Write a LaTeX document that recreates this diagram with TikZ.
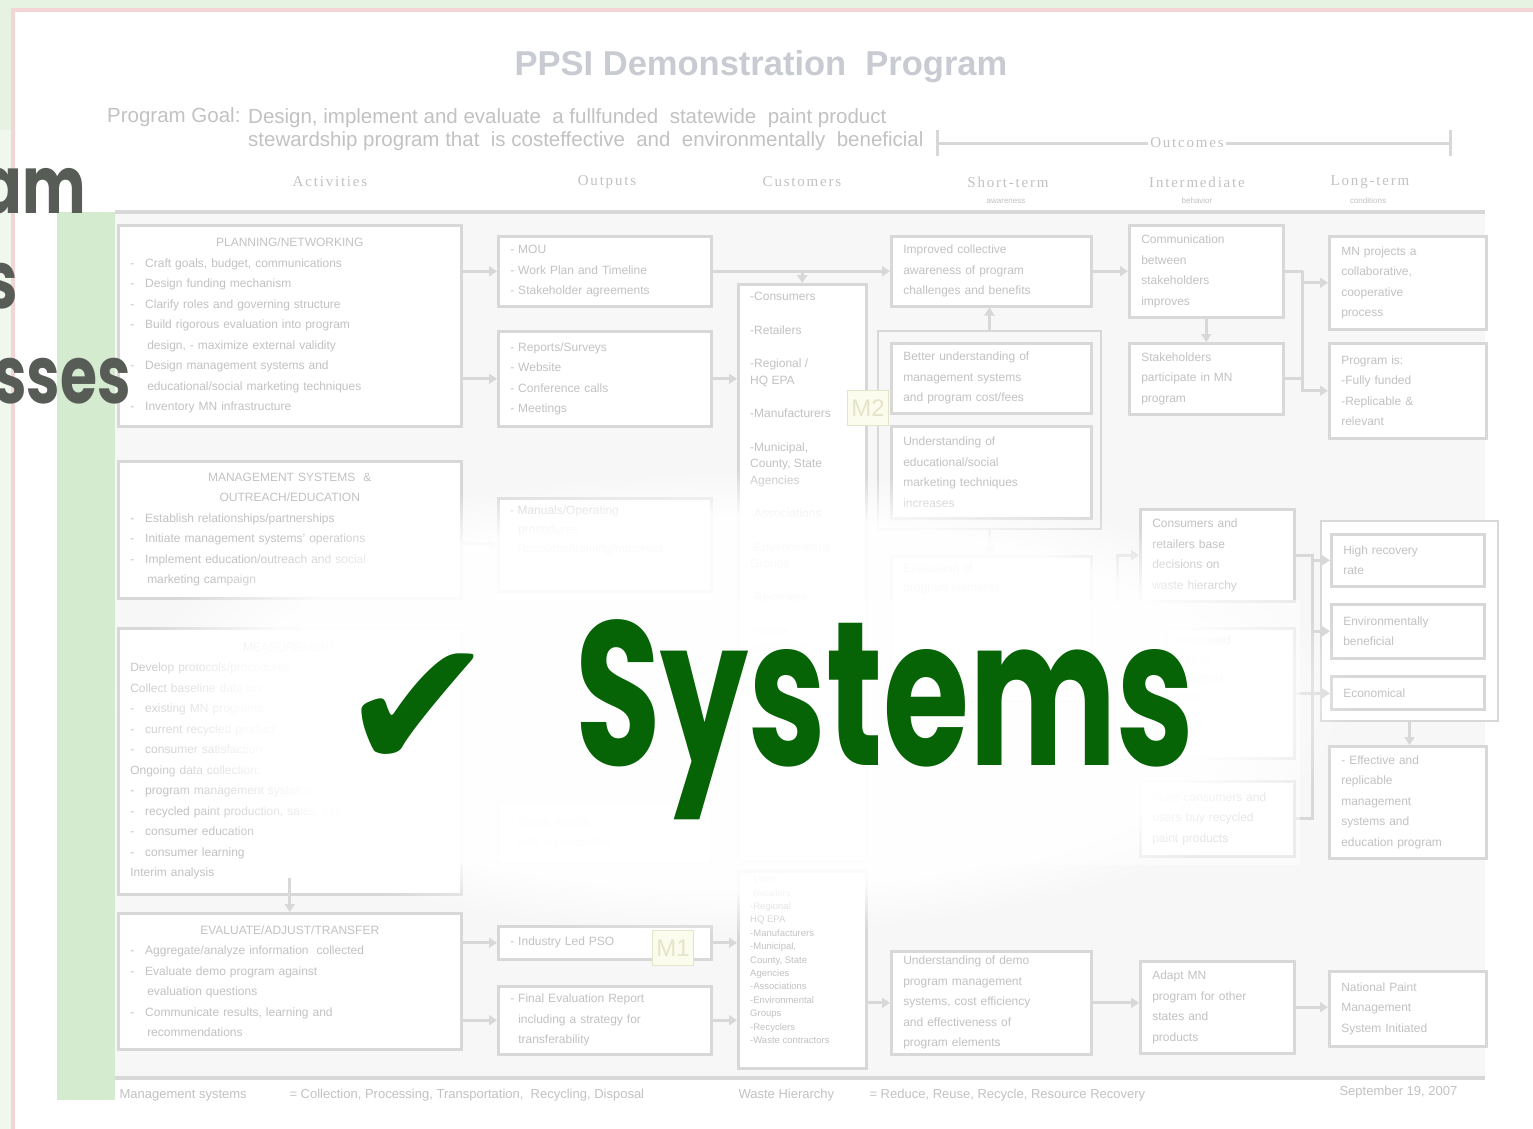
\documentclass[tikz,border=0pt]{standalone}
\usepackage{fontspec}
\setmainfont{Liberation Sans}
\newfontfamily\hdrfont[LetterSpace=12]{Liberation Serif}
\newfontfamily\handfont{Poppins}
\newfontfamily\symfont{DejaVu Sans}
\usetikzlibrary{arrows.meta,fadings}
\definecolor{lgray}{HTML}{D8D8D8}
\definecolor{tgray}{HTML}{C2C2C2}
\definecolor{ttlgray}{HTML}{C9CBD3}
\definecolor{bargreen}{HTML}{D5EBD0}
\definecolor{topgreen}{HTML}{E6F3E2}
\definecolor{framepink}{HTML}{F3D5D5}
\definecolor{sysgreen}{HTML}{066306}
\definecolor{handgray}{HTML}{575C57}
\definecolor{panel}{HTML}{F7F7F7}
\definecolor{mfill}{HTML}{FCFCEE}
\definecolor{mline}{HTML}{E4E4C8}
\tikzset{
  box/.style={draw=lgray,line width=2.5pt,fill=white,anchor=north west,inner xsep=12pt,inner ysep=5pt,align=left,text=tgray,font=\fontsize{12}{20.5}\selectfont},
  boxtxt/.style={anchor=north west,inner xsep=13pt,inner ysep=9pt,align=left,text=tgray,font=\fontsize{12}{16.5}\selectfont},
  grp/.style={draw=lgray,line width=2pt,anchor=north west,inner sep=0pt},
  flow/.style={draw=lgray,line width=3pt,-{Triangle[width=10pt,length=8pt]}},
  plain/.style={draw=lgray,line width=3pt},
  colhead/.style={text=tgray,font=\hdrfont\fontsize{15}{15}\selectfont},
  sublabel/.style={text=tgray,font=\fontsize{8}{8}\selectfont},
  foot/.style={anchor=west,text=tgray,font=\fontsize{13}{13}\selectfont},
  mtag/.style={draw=mline,fill=mfill,line width=1pt,text=mline,font=\fontsize{24}{24}\selectfont,inner sep=2pt,anchor=north west,minimum width=41pt,minimum height=35pt},
  hand/.style={anchor=base east,text=handgray,inner sep=0pt,xscale=0.75,transform shape,font=\handfont\bfseries\fontsize{80}{80}\selectfont}
}
\begin{document}
\begin{tikzpicture}[x=1pt,y=-1pt]
      \useasboundingbox (0,0) rectangle (1533,1129);
      \fill[white] (0,0) rectangle (1533,1129);
      \fill[topgreen] (0,0) rectangle (1533,8);
      \fill[topgreen!60] (0,0) rectangle (11,1129);
      \fill[topgreen] (0,0) rectangle (11,130);
      \draw[framepink,line width=4pt] (13,1129) -- (13,10) -- (1533,10);
      \fill[panel] (115,214) rectangle (1485,1078);
      \fill[bargreen] (57,212) rectangle (115,1100);
      \node[text=ttlgray,font=\bfseries\fontsize{34.5}{34.5}\selectfont] (title) at (761,67) {PPSI Demonstration\ \ Program};
      \node[anchor=base west,text=tgray,font=\fontsize{20.5}{23}\selectfont,inner sep=0pt] (goal) at (107,123) {Program Goal:};
      \node[anchor=north west,align=left,text=tgray,font=\fontsize{20.5}{23}\selectfont,inner sep=0pt] (goaltext) at (248,108) {Design, implement and evaluate\ \ a fullfunded\ \ statewide\ \ paint product\\stewardship program that\ \ is costeffective\ \ and\ \ environmentally\ \ beneficial};
      \node[colhead,inner sep=2pt] (outc) at (1187,143) {Outcomes};
      \coordinate (ol) at (937,143);
      \coordinate (or) at (1450,143);
      \draw[plain] (ol) -- (outc.west);
      \draw[plain] (outc.east) -- (or);
      \draw[plain] ([yshift=13pt]ol) -- ([yshift=-13pt]ol);
      \draw[plain] ([yshift=13pt]or) -- ([yshift=-13pt]or);
      \node[colhead] (hact) at (330,182) {Activities};
      \node[colhead] (hout) at (607,182) {Outputs};
      \node[colhead] (hcus) at (802,182) {Customers};
      \node[colhead] (hst) at (1008,182) {Short-term};
      \node[colhead] (hint) at (1197,182) {Intermediate};
      \node[colhead] (hlt) at (1370,182) {Long-term};
      \node[sublabel] (sst) at (1006,201) {awareness};
      \node[sublabel] (sint) at (1197,201) {behavior};
      \node[sublabel] (slt) at (1368,201) {conditions};
      \draw[plain,line width=4pt] (115,212) -- (1485,212);
      \draw[plain,line width=4pt] (115,1078) -- (1485,1078);
      \node[box,text width=319pt,minimum height=201pt] (a1) at (117,224) {\hfill PLANNING/NETWORKING\hfill\null\\
        -\hspace{11pt}Craft goals, budget, communications\\
        -\hspace{11pt}Design funding mechanism\\
        -\hspace{11pt}Clarify roles and governing structure\\
        -\hspace{11pt}Build rigorous evaluation into program\\
        \hspace*{17pt}design, - maximize external validity\\
        -\hspace{11pt}Design management systems and\\
        \hspace*{17pt}educational/social marketing techniques\\
        -\hspace{11pt}Inventory MN infrastructure};
      \node[box,text width=319pt,minimum height=137pt] (a2) at (117,460) {\hfill MANAGEMENT SYSTEMS\ \ \&\hfill\null\\
        \hfill OUTREACH/EDUCATION\hfill\null\\
        -\hspace{11pt}Establish relationships/partnerships\\
        -\hspace{11pt}Initiate management systems' operations\\
        -\hspace{11pt}Implement education/outreach and social\\
        \hspace*{17pt}marketing campaign};
      \node[box,text width=319pt,minimum height=266pt] (a3) at (117,627) {\hfill MEASUREMENT\hfill\null\\
        Develop protocols/procedures\\
        Collect baseline data on:\\
        -\hspace{11pt}existing MN programs\\
        -\hspace{11pt}current recycled product\\
        -\hspace{11pt}consumer satisfaction\\
        Ongoing data collection:\\
        -\hspace{11pt}program management systems\\
        -\hspace{11pt}recycled paint production, sales, use\\
        -\hspace{11pt}consumer education\\
        -\hspace{11pt}consumer learning\\
        Interim analysis};
      \node[box,text width=319pt,minimum height=136pt] (a4) at (117,912) {\hfill EVALUATE/ADJUST/TRANSFER\hfill\null\\
        -\hspace{11pt}Aggregate/analyze information\ \ collected\\
        -\hspace{11pt}Evaluate demo program against\\
        \hspace*{17pt}evaluation questions\\
        -\hspace{11pt}Communicate results, learning and\\
        \hspace*{17pt}recommendations};
      \node[box,text width=189pt,minimum height=70pt] (o1) at (497,235) {- MOU\\- Work Plan and Timeline\\- Stakeholder agreements};
      \node[box,text width=189pt,minimum height=95pt] (o2) at (497,330) {- Reports/Surveys\\- Website\\- Conference calls\\- Meetings};
      \node[box,text width=189pt,minimum height=93pt] (o3) at (497,497) {};
      \node[boxtxt,font=\fontsize{12}{19}\selectfont] (o3t) at (o3.north west) {- Manuals/Operating\\\hspace*{8pt}procedures\\- Resource/training/materials};
      \node[box,text width=189pt,minimum height=62pt] (o4) at (497,800) {- Share results\\\hspace*{8pt}with stakeholders};
      \node[box,text width=189pt,minimum height=33pt] (o5) at (497,925) {- Industry Led PSO};
      \node[box,text width=189pt,minimum height=68pt] (o6) at (497,985) {- Final Evaluation Report\\\hspace*{8pt}including a strategy for\\\hspace*{8pt}transferability};
      \node[box,text width=104pt,minimum height=577pt] (c1) at (737,283) {};
      \node[boxtxt] (c1t) at (c1.north west) {-Consumers\\[17pt]-Retailers\\[17pt]-Regional /\\HQ EPA\\[17pt]-Manufacturers\\[17pt]-Municipal,\\County, State\\Agencies\\[17pt]-Associations\\[17pt]-Environmental\\Groups\\[17pt]-Recyclers\\[17pt]-Waste\\contractors};
      \node[box,text width=104pt,minimum height=197pt] (c2) at (737,870) {};
      \node[boxtxt,inner ysep=6pt,font=\fontsize{9.5}{13.4}\selectfont] (c2t) at (c2.north west) {-Users\\-Retailers\\-Regional\\HQ EPA\\-Manufacturers\\-Municipal,\\County, State\\Agencies\\-Associations\\-Environmental\\Groups\\-Recyclers\\-Waste contractors};
      \node[grp,minimum width=223pt,minimum height=198pt] (sg) at (877,330) {};
      \node[box,text width=176pt,minimum height=70pt] (s1) at (890,235) {Improved collective\\awareness of program\\challenges and benefits};
      \node[box,text width=176pt,minimum height=70pt] (s2) at (890,342) {Better understanding of\\management systems\\and program cost/fees};
      \node[box,text width=176pt,minimum height=92pt] (s3) at (890,425) {Understanding of\\educational/social\\marketing techniques\\increases};
      \node[box,text width=176pt,minimum height=145pt] (s4) at (890,555) {};
      \node[boxtxt,font=\fontsize{12}{19}\selectfont] (s4t) at (s4.north west) {Evaluation of\\program elements};
      \node[box,text width=176pt,minimum height=98pt] (s5) at (890,950) {Understanding of demo\\program management\\systems, cost efficiency\\and effectiveness of\\program elements};
      \node[box,text width=130pt,minimum height=92pt] (i1) at (1128,224) {Communication\\between\\stakeholders\\improves};
      \node[box,text width=130pt,minimum height=71pt] (i2) at (1128,342) {Stakeholders\\participate in MN\\program};
      \node[box,text width=130pt,minimum height=92pt] (i3) at (1139,508) {Consumers and\\retailers base\\decisions on\\waste hierarchy};
      \node[box,text width=104pt,minimum height=130pt] (i4) at (1165,627) {};
      \node[boxtxt,font=\fontsize{12}{19}\selectfont] (i4t) at (i4.north west) {Increased\\use of\\recycled\\paint};
      \node[box,text width=130pt,minimum height=75pt] (i5) at (1139,780) {More consumers and\\users buy recycled\\paint products};
      \node[box,text width=130pt,minimum height=92pt] (i6) at (1139,960) {Adapt MN\\program for other\\states and\\products};
      \node[box,text width=133pt,minimum height=93pt] (l1) at (1328,235) {MN projects a\\collaborative,\\cooperative\\process};
      \node[box,text width=133pt,minimum height=95pt] (l2) at (1328,342) {Program is:\\-Fully funded\\-Replicable \&\\relevant};
      \node[grp,fill=white,minimum width=177pt,minimum height=200pt] (lg) at (1320,520) {};
      \node[box,text width=129pt,minimum height=52pt] (l3) at (1330,533) {High recovery\\rate};
      \node[box,text width=129pt,minimum height=54pt] (l4) at (1330,603) {Environmentally\\beneficial};
      \node[box,text width=129pt,minimum height=33pt] (l5) at (1330,675) {Economical};
      \node[box,text width=133pt,minimum height=112pt] (l6) at (1328,745) {- Effective and\\replicable\\management\\systems and\\education program};
      \node[box,text width=133pt,minimum height=75pt] (l7) at (1328,970) {National Paint\\Management\\System Initiated};
      \node[mtag] (m2) at (847,390) {M2};
      \node[mtag] (m1) at (652,930) {M1};
      \draw[flow] (a1.east |- o1.west) -- (o1.west);
      \draw[flow] (a1.east |- o2.west) -- (o2.west);
      \draw[flow] ([yshift=-14pt]a2.east) -- ([yshift=-14pt]a2.east -| o3.west);
      \draw[flow] ([yshift=18pt]a3.south) -- (a4.north);
      \draw[flow] (a4.east |- o5.west) -- (o5.west);
      \draw[flow] (a4.east |- o6.west) -- (o6.west);
      \draw[flow] (o1.east) -- (s1.west);
      \draw[flow] (o1.east -| c1.north) -- (c1.north);
      \draw[flow] (o2.east) -- (o2.east -| c1.west);
      \draw[flow] (sg.north) -- (sg.north |- s1.south);
      \draw[flow] (sg.south) -- (sg.south |- s4.north);
      \draw[flow] (s1.east) -- (s1.east -| i1.west);
      \draw[flow] (i1.south) -- (i1.south |- i2.north);
      \coordinate (j1) at ([xshift=18pt]i1.east);
      \draw[plain] (i1.east) -- (j1);
      \draw[flow] (j1) |- (l1.west);
      \draw[flow] (j1) |- (l2.west);
      \draw[plain] (i2.east) -- (i2.east -| j1);
      \draw[flow] (s4.east |- i3.south) -- ++(25,0) |- (i3.west);
      \coordinate (j2) at ([xshift=17pt]i3.east);
      \draw[plain] (i3.east) -- (j2) -- (j2 |- i5.east) -- (i5.east);
      \draw[flow] (j2 |- l3.west) -- (l3.west);
      \draw[flow] (j2 |- l4.west) -- (l4.west);
      \draw[flow] (i4.east) -- (i4.east -| l5.west);
      \draw[flow] (lg.south) -- (lg.south |- l6.north);
      \draw[flow] (o5.east) -- (o5.east -| c2.west);
      \draw[flow] (o6.east) -- (o6.east -| c2.west);
      \draw[flow] (s5.west -| c2.east) -- (s5.west);
      \draw[flow] (s5.east) -- (s5.east -| i6.west);
      \draw[flow] (i6.east) -- (i6.east -| l7.west);
      \node[foot] (f1) at (116,1095) {Management systems};
      \node[foot] (f2) at (286,1095) {= Collection, Processing, Transportation,\ \ Recycling, Disposal};
      \node[foot] (f3) at (735,1095) {Waste Hierarchy};
      \node[foot] (f4) at (866,1095) {= Reduce, Reuse, Recycle, Resource Recovery};
      \node[foot] (f5) at (1336,1092) {September 19, 2007};
      \fill[white,opacity=0.92,path fading=circle with fuzzy edge 20 percent] (116,470) rectangle (1350,935);
      \fill[white,opacity=0.5] (300,600) rectangle (1300,865);
      \node[hand] (h1) at (86,213) {am};
      \node[hand] (h2) at (18,308) {s};
      \node[hand] (h3) at (131,403) {sses};
      \node[text=sysgreen,font=\symfont\bfseries\fontsize{185}{185}\selectfont] (tick) at (418,712) {✔};
      \node[anchor=base west,text=sysgreen,font=\handfont\bfseries\fontsize{205}{205}\selectfont,xscale=0.68,transform shape,inner sep=0pt] (sys) at (575,765) {Systems};
\end{tikzpicture}
\end{document}
